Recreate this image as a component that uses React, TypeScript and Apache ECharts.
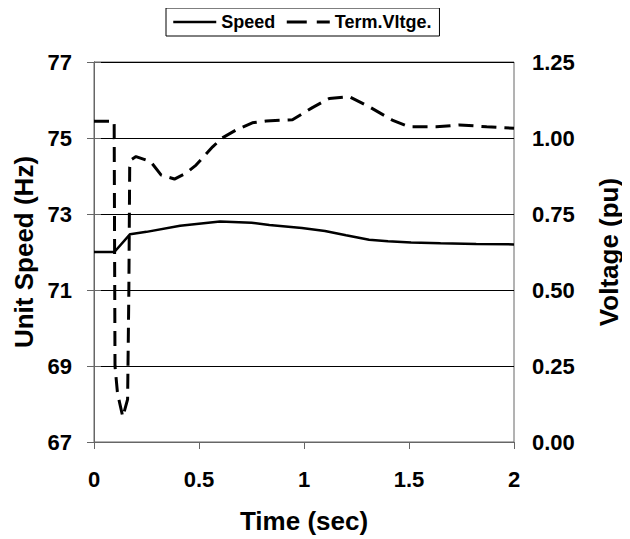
import React, { useEffect, useRef } from "react";
import * as echarts from "echarts";

const speedTime = [0, 0.097, 0.172, 0.25, 0.41, 0.6, 0.75, 0.835, 0.99, 1.1, 1.2, 1.31, 1.4, 1.51, 1.65, 1.82, 2.0];
const speedHz = [72.0, 72.0, 72.47, 72.53, 72.69, 72.8, 72.77, 72.71, 72.63, 72.55, 72.44, 72.32, 72.28, 72.25, 72.23, 72.21, 72.2];

const voltTime = [0, 0.096, 0.1, 0.112, 0.137, 0.16, 0.166, 0.17, 0.18, 0.2, 0.27, 0.32, 0.383, 0.44, 0.486, 0.565, 0.61, 0.676, 0.754, 0.82, 0.945, 1.04, 1.12, 1.215, 1.31, 1.42, 1.5, 1.63, 1.74, 1.87, 2.0];
const voltPu = [1.055, 1.055, 0.25, 0.16, 0.083, 0.14, 0.5, 0.905, 0.93, 0.939, 0.922, 0.878, 0.865, 0.885, 0.911, 0.971, 1.0, 1.026, 1.05, 1.056, 1.06, 1.1, 1.13, 1.136, 1.103, 1.059, 1.037, 1.037, 1.043, 1.037, 1.032];

const xTicks = [0, 0.5, 1, 1.5, 2];
const speedTicks = [67, 69, 71, 73, 75, 77];
const voltTicks = [0, 0.25, 0.5, 0.75, 1.0, 1.25];

const FONT = "Liberation Sans, Arial, sans-serif";

export default function App() {
  const ref = useRef<HTMLDivElement>(null);
  useEffect(() => {
    if (!ref.current) return;
    const chart = echarts.init(ref.current, null, { renderer: "svg" });
    const labelStyle = { color: "#000", fontFamily: FONT, fontWeight: "bold", fontSize: 22 };
    const nameStyle = { color: "#000", fontFamily: FONT, fontWeight: "bold", fontSize: 26 };
    chart.setOption({
      animation: false,
      backgroundColor: "#fff",
      grid: {
        left: 94,
        right: 115,
        top: 62,
        bottom: 97,
        show: true,
        borderColor: "#666",
        borderWidth: 1,
      },
      legend: {
        left: 166,
        top: 8,
        padding: [5, 8, 5, 6],
        itemGap: 10,
        itemWidth: 43,
        itemHeight: 14,
        borderColor: "#000",
        borderWidth: 1,
        borderRadius: 0,
        backgroundColor: "#fff",
        itemStyle: { opacity: 0, color: "rgba(0,0,0,0)", borderWidth: 0 },
        textStyle: { color: "#000", fontFamily: FONT, fontWeight: "bold", fontSize: 18 },
        data: [
          { name: "Speed", lineStyle: { color: "#000", width: 2.5, type: "solid" } },
          { name: "Term.Vltge.", lineStyle: { color: "#000", width: 3, type: [20, 10] } },
        ],
      },
      xAxis: {
        type: "value",
        min: xTicks[0],
        max: xTicks[xTicks.length - 1],
        interval: 0.5,
        name: "Time (sec)",
        nameLocation: "middle",
        nameGap: 66,
        nameTextStyle: nameStyle,
        axisLine: { show: true, lineStyle: { color: "#666", width: 1 } },
        axisTick: { show: true, length: 7, lineStyle: { color: "#666" } },
        axisLabel: { ...labelStyle, margin: 26, formatter: (v: number) => String(v) },
        splitLine: { show: false },
      },
      yAxis: [
        {
          type: "value",
          position: "right",
          min: voltTicks[0],
          max: voltTicks[voltTicks.length - 1],
          interval: 0.25,
          name: "Voltage (pu)",
          nameLocation: "middle",
          nameGap: 82,
          nameRotate: 90,
          nameTextStyle: nameStyle,
          axisLine: { show: true, lineStyle: { color: "#666", width: 1 } },
          axisTick: { show: true, length: 7, lineStyle: { color: "#666" } },
          axisLabel: { ...labelStyle, margin: 18, formatter: (v: number) => v.toFixed(2) },
          splitLine: { show: true, lineStyle: { color: "#000", width: 1 } },
        },
        {
          type: "value",
          position: "left",
          min: speedTicks[0],
          max: speedTicks[speedTicks.length - 1],
          alignTicks: true,
          name: "Unit Speed (Hz)",
          nameLocation: "middle",
          nameGap: 52,
          nameRotate: 90,
          nameTextStyle: nameStyle,
          axisLine: { show: true, lineStyle: { color: "#666", width: 1 } },
          axisTick: { show: true, length: 7, lineStyle: { color: "#666" } },
          axisLabel: { ...labelStyle, margin: 22, formatter: (v: number) => String(Math.round(v)) },
          splitLine: { show: false },
        },
      ],
      series: [
        {
          name: "Speed",
          type: "line",
          yAxisIndex: 1,
          symbol: "none",
          data: speedTime.map((t, i) => [t, speedHz[i]]),
          lineStyle: { color: "#000", width: 2.5, type: "solid" },
          itemStyle: { color: "#000" },
        },
        {
          name: "Term.Vltge.",
          type: "line",
          yAxisIndex: 0,
          symbol: "none",
          data: voltTime.map((t, i) => [t, voltPu[i]]),
          lineStyle: { color: "#000", width: 3, type: [15, 8] },
          itemStyle: { color: "#000" },
        },
      ],
    });
    return () => chart.dispose();
  }, []);
  return <div ref={ref} style={{ width: 630, height: 539, marginLeft: -8, marginTop: -8 }} />;
}
